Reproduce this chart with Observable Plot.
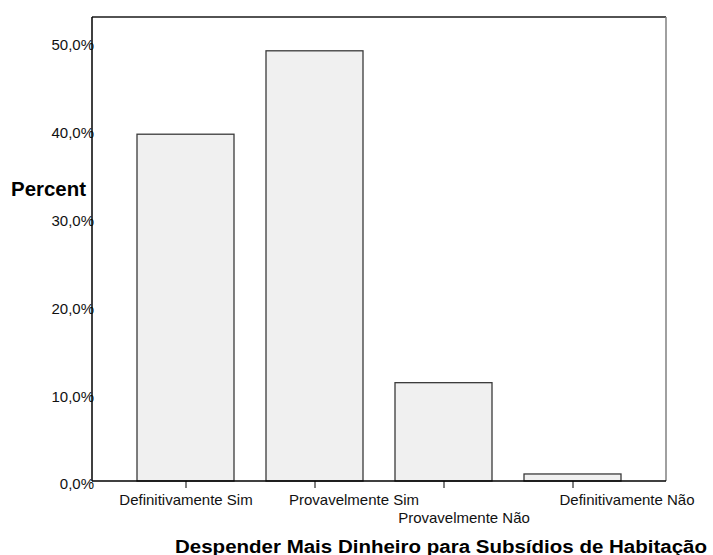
<!DOCTYPE html>
<html><head><meta charset="utf-8">
<script src="https://cdn.jsdelivr.net/npm/d3@7"></script>
<script src="https://cdn.jsdelivr.net/npm/@observablehq/plot@0.6"></script>
<style>body{margin:0;background:#fff} #chart{width:713px;height:555px}</style>
</head><body><div id="chart"></div>
<script>
// ---- data ----
const categories = ["Definitivamente Sim", "Provavelmente Sim", "Provavelmente Não", "Definitivamente Não"];
const percents = [39.5, 49.0, 11.2, 0.8];
const yTicks = [0, 10, 20, 30, 40, 50];
const yTitle = "Percent";
const xTitle = "Despender Mais Dinheiro para Subsídios de Habitação";

// ---- drawing ----
const data = categories.map((c, i) => ({category: c, percent: percents[i]}));
const W = 713, H = 555;
const font = '"Liberation Sans", Arial, Helvetica, sans-serif';
// label offsets (dx, dy) as in the SPSS layout
const labelShift = [[0, 19], [39, 19], [20, 37], [54, 19]];

const frameMark = (index, scales, values, dim) => {
  const g = d3.create("svg:g").attr("fill", "none").attr("stroke-width", 1.5);
  const x0 = dim.marginLeft, x1 = dim.width - dim.marginRight;
  const y0 = dim.marginTop, y1 = dim.height - dim.marginBottom;
  g.append("line").attr("x1", x0).attr("x2", x1).attr("y1", y0).attr("y2", y0).attr("stroke", "#1a1a1a");
  g.append("line").attr("x1", x1).attr("x2", x1).attr("y1", y0).attr("y2", y1).attr("stroke", "#808080");
  g.append("line").attr("x1", x0).attr("x2", x0).attr("y1", y0).attr("y2", y1).attr("stroke", "#000");
  g.append("line").attr("x1", x0).attr("x2", x1).attr("y1", y1).attr("y2", y1).attr("stroke", "#000");
  return g.node();
};

const labelMarks = categories.map((c, i) => Plot.text([c], {
  x: d => d, text: d => d, frameAnchor: "bottom", lineAnchor: "middle",
  dx: labelShift[i][0], dy: labelShift[i][1], fontSize: 15, fill: "#111"
}));

const svg = Plot.plot({
  width: W, height: H,
  marginLeft: 92, marginRight: 47, marginTop: 17, marginBottom: 74,
  style: {fontFamily: font, background: "white", color: "#111"},
  x: {domain: categories, paddingInner: 0.249, paddingOuter: 0.347, axis: null},
  y: {domain: [0, 52.85], axis: null},
  marks: [
    Plot.barY(data, {x: "category", y: "percent", fill: "#f0f0f0", stroke: "#3a3a3a", strokeWidth: 1.3}),
    Plot.axisX({tickSize: 7, tickFormat: () => "", label: null, stroke: "#000"}),
    Plot.axisY({ticks: yTicks, tickSize: 0, tickPadding: -1.5, dy: 3, fontSize: 15, label: null,
      tickFormat: d => d.toFixed(1).replace(".", ",") + "%"}),
    ...labelMarks,
    frameMark
  ]
});

const s = d3.select(svg);
s.append("text").attr("x", 11).attr("y", 196).attr("text-anchor", "start")
  .attr("font-family", font).attr("font-weight", "bold").attr("font-size", 19.5)
  .attr("textLength", 75).attr("lengthAdjust", "spacingAndGlyphs").attr("fill", "#000")
  .text(yTitle);
s.append("text").attr("x", 175).attr("y", 552.5).attr("text-anchor", "start")
  .attr("font-family", font).attr("font-weight", "bold").attr("font-size", 18.8)
  .attr("textLength", 532).attr("lengthAdjust", "spacingAndGlyphs").attr("fill", "#000")
  .text(xTitle);

document.getElementById("chart").appendChild(svg);
</script>
</body></html>
